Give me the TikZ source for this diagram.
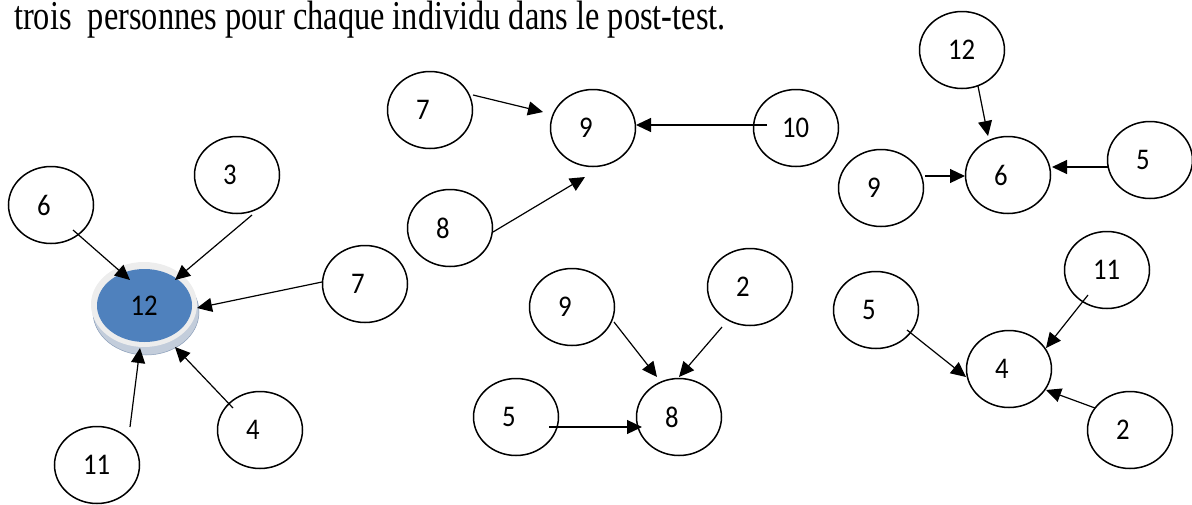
\documentclass[tikz,border=0pt]{standalone}
\usepackage{fontspec}
\setmainfont{Liberation Serif}
\newfontfamily\numfont[FakeStretch=0.89]{Carlito}
\newfontfamily\capfont[FakeStretch=0.79]{Liberation Serif}
\usetikzlibrary{shapes.geometric,arrows.meta,calc}
\definecolor{nodeblue}{HTML}{4F81BD}
\definecolor{rimgray}{HTML}{EDEDED}
\definecolor{rimband}{HTML}{C3CDDB}
\definecolor{rimline}{HTML}{8A9DB8}
\begin{document}
\begin{tikzpicture}[x=1pt,y=-1pt,
  person/.style={ellipse, draw, line width=1.5pt, minimum width=85pt,
    minimum height=77pt, inner sep=0pt, text width=28pt, align=left,
    font=\numfont\fontsize{30}{30}\selectfont},
  link/.style={line width=1.2pt, -{Triangle[length=15pt,width=14pt]}}]
\useasboundingbox (0,0) rectangle (1192,504);

% caption line
\node[anchor=base west, inner sep=0pt, font=\capfont\fontsize{41}{41}\selectfont]
  (caption) at (14,29.5) {trois\ \ personnes pour chaque individu dans le post-test.};

% highlighted person: coin-like disc
\fill[rimband] (146,312) ellipse [x radius=53pt, y radius=43pt];
\draw[rimline, line width=0.5pt] (146,312) ellipse [x radius=53pt, y radius=43pt];
\fill[rimgray] (144,304.5) ellipse [x radius=53pt, y radius=42.5pt];
\node[ellipse, fill=nodeblue, minimum width=95pt, minimum height=73pt, inner sep=0pt,
  text width=28pt, align=left, font=\numfont\fontsize{30}{30}\selectfont]
  (a12) at (144.5,305.5) {12};

% left group
\node[person] (l6) at (51,205) {6};
\node[person] (l3) at (237,175) {3};
\node[person] (l7) at (365,284) {7};
\node[person] (l4) at (260,430) {4};
\node[person] (l11) at (97,465) {11};

% top middle group
\node[person] (t7) at (430,110) {7};
\node[person] (t9) at (593,128) {9};
\node[person] (t10) at (796,128) {10};
\node[person] (t8) at (450,228) {8};
\coordinate (t8end) at (585,177);

% bottom middle group
\node[person] (m9) at (572,307) {9};
\node[person] (m2) at (750,287) {2};
\node[person] (m5) at (516,417) {5};
\node[person] (m8) at (679,417) {8};

% top right group
\node[person] (r12) at (962,50) {12};
\node[person] (r6) at (1008,175) {6};
\node[person] (r9) at (881,188) {9};
\node[person] (r5) at (1150,160) {5};

% bottom right group
\node[person] (r11) at (1107,270) {11};
\node[person] (r5b) at (876,310) {5};
\node[person] (r4) at (1009,369) {4};
\node[person] (r2) at (1130,430) {2};

% choices
\draw[link] ($(l6)+(22,25)$) -- ($(a12)+(-14.5,-25.5)$);
\draw[link] ($(l3)+(15,40)$) -- ($(a12)+(30.5,-25.5)$);
\draw[link] ($(l7)+(-43,-2)$) -- ($(a12)+(52.5,2.5)$);
\draw[link] ($(l4)+(-27,-22)$) -- ($(a12)+(30.5,41.5)$);
\draw[link] ($(l11)+(33,-38)$) -- ($(a12)+(-4.5,42.5)$);

\draw[link] ($(t7)+(43,-15)$) -- ($(t9)+(-50,-16)$);
\draw[link] ($(t8)+(43,4)$) -- (t8end);
\draw[link] ($(t10)+(-29,-3)$) -- ($(t9)+(43,-3)$);

\draw[link] ($(m9)+(42,15)$) -- ($(m8)+(-22,-40)$);
\draw[link] ($(m2)+(-28,40)$) -- ($(m8)+(0,-40)$);
\draw[link] ($(m5)+(33,10)$) -- ($(m8)+(-37,10)$);

\draw[link] ($(r12)+(16,36)$) -- ($(r6)+(-20,-39)$);
\draw[link] ($(r9)+(44,-12)$) -- ($(r6)+(-43,1)$);
\draw[link] ($(r5)+(-42,7)$) -- ($(r6)+(44,-8)$);

\draw[link] ($(r5b)+(31,20)$) -- ($(r4)+(-43,8)$);
\draw[link] ($(r11)+(-19,25)$) -- ($(r4)+(37,-21)$);
\draw[link] ($(r2)+(-35,-22)$) -- ($(r4)+(37,21)$);
\end{tikzpicture}
\end{document}
